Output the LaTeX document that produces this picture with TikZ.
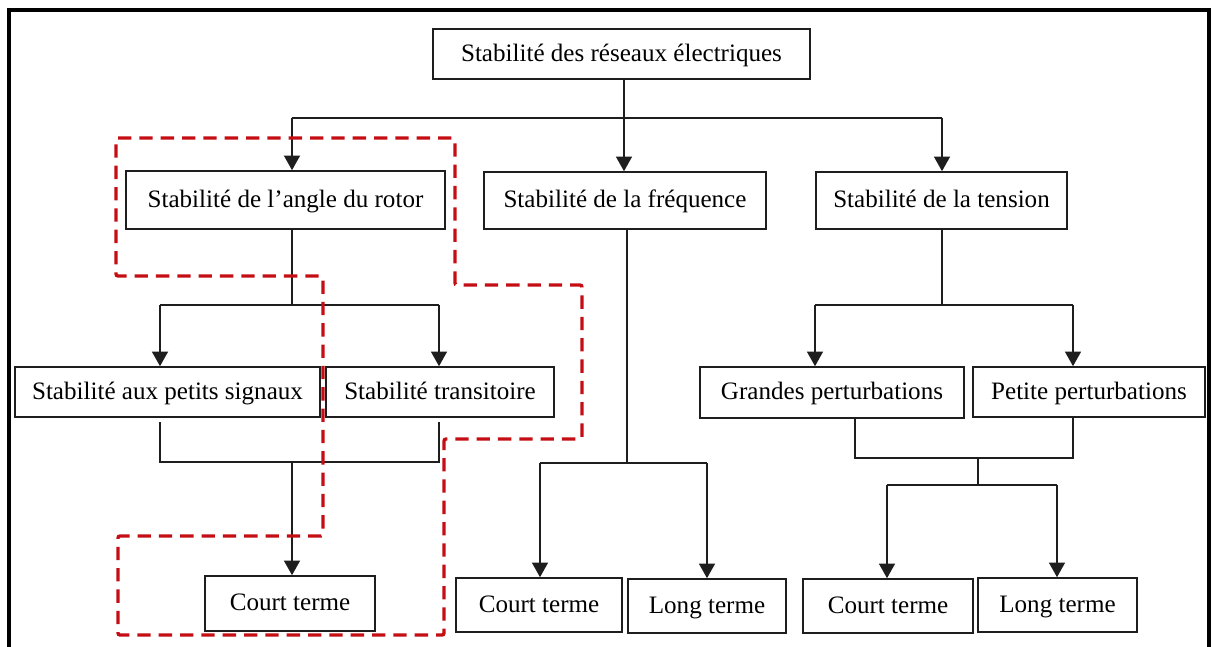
\documentclass[tikz,border=0pt]{standalone}
\usepackage{fontspec}
\setmainfont{Liberation Serif}
\usetikzlibrary{arrows.meta,calc}
\definecolor{zonered}{RGB}{196,14,20}
\definecolor{ink}{RGB}{30,30,30}

% box from its left, top, right and bottom edges (pixel units)
\newcommand\placebox[6]{%
  \node[box,minimum width={(#4-(#2))*0.75pt},minimum height={(#5-(#3))*0.75pt}]
    (#1) at ({(#2+#4)/2},{(#3+#5)/2}) {#6};}

\begin{document}
\begin{tikzpicture}[x=0.75pt,y=-0.75pt,
  box/.style={draw=ink,line width=1.2pt,fill=white,inner sep=0pt,
              text height=15pt,text depth=4pt,
              font=\fontsize{18.8}{22}\selectfont},
  link/.style={draw=ink,line width=1.25pt},
  arr/.style={link,-{Triangle[width=12pt,length=11pt]}},
  zone/.style={draw=zonered,line width=2.5pt,dash pattern=on 10pt off 6pt,
               rounded corners=1.5pt}]
\useasboundingbox (0,0) rectangle (1213,646);
\clip (0,0) rectangle (1213,646);
\fill[white] (0,0) rectangle (1213,646);

% outer frame
\draw[line width=2.8pt] (9,700) -- (9,10) -- (1209,10) -- (1209,700);

% boxes
\placebox{root}{433}{29}{810}{79}{Stabilité des réseaux électriques}
\placebox{angle}{126}{171}{445}{229}{Stabilité de l’angle du rotor}
\placebox{freq}{484}{172}{766}{229}{Stabilité de la fréquence}
\placebox{tension}{816}{172}{1067}{229}{Stabilité de la tension}
\placebox{petits}{15}{367}{320}{417}{Stabilité aux petits signaux}
\placebox{trans}{326}{367}{554}{417}{Stabilité transitoire}
\placebox{courtA}{205}{576}{375}{631}{Court terme}
\placebox{courtF}{456}{578}{622}{632}{Court terme}
\placebox{longF}{628}{579}{786}{633}{Long terme}
\placebox{grandes}{700}{367}{964}{418}{Grandes perturbations}
\placebox{petite}{973}{367}{1205}{417}{Petite perturbations}
\placebox{courtT}{803}{579}{973}{633}{Court terme}
\placebox{longT}{978}{578}{1137}{632}{Long terme}

% first level
\coordinate (b0) at (624,118);
\coordinate (bL) at (292,118);
\coordinate (bR) at (942,118);
\draw[link] (root.south -| b0) -- (b0);
\draw[link] (bL) -- (bR);
\draw[arr] (bL) -- (bL |- angle.north);
\draw[arr] (b0) -- (b0 |- freq.north);
\draw[arr] (bR) -- (bR |- tension.north);

% rotor angle branch
\coordinate (a0) at (292,305);
\coordinate (aL) at (160,305);
\coordinate (aR) at (439,305);
\draw[link] (angle.south -| a0) -- (a0);
\draw[link] (aL) -- (aR);
\draw[arr] (aL) -- (aL |- petits.north);
\draw[arr] (aR) -- (aR |- trans.north);
\coordinate (pL) at (160,422);
\coordinate (pR) at (439,422);
\coordinate (j0) at (292,462);
\draw[link] (pL) |- (j0 -| pR) -- (pR);
\draw[arr] (j0) -- (j0 |- courtA.north);

% frequency branch
\coordinate (f0) at (627,463);
\coordinate (fL) at (540,463);
\coordinate (fR) at (707,463);
\draw[link] (freq.south -| f0) -- (f0);
\draw[link] (fL) -- (fR);
\draw[arr] (fL) -- (fL |- courtF.north);
\draw[arr] (fR) -- (fR |- longF.north);

% voltage branch
\coordinate (t0) at (942,305);
\coordinate (tL) at (815,305);
\coordinate (tR) at (1073,305);
\draw[link] (tension.south -| t0) -- (t0);
\draw[link] (tL) -- (tR);
\draw[arr] (tL) -- (tL |- grandes.north);
\draw[arr] (tR) -- (tR |- petite.north);
\coordinate (gL) at (855,458);
\coordinate (gR) at (1073,458);
\coordinate (k0) at (978,458);
\coordinate (kM) at (978,485);
\coordinate (kL) at (887,485);
\coordinate (kR) at (1057,485);
\draw[link] (grandes.south -| gL) |- (gR) -- (petite.south -| gR);
\draw[link] (k0) -- (kM);
\draw[link] (kL) -- (kR);
\draw[arr] (kL) -- (kL |- courtT.north);
\draw[arr] (kR) -- (kR |- longT.north);

% dashed outline around the rotor angle branch
\draw[zone] (116,138) -- (455,138) -- (455,285) -- (582,285) -- (582,439)
  -- (444,439) -- (444,635) -- (118,635) -- (118,536) -- (323,536)
  -- (323,276) -- (116,276) -- cycle;
\end{tikzpicture}
\end{document}
